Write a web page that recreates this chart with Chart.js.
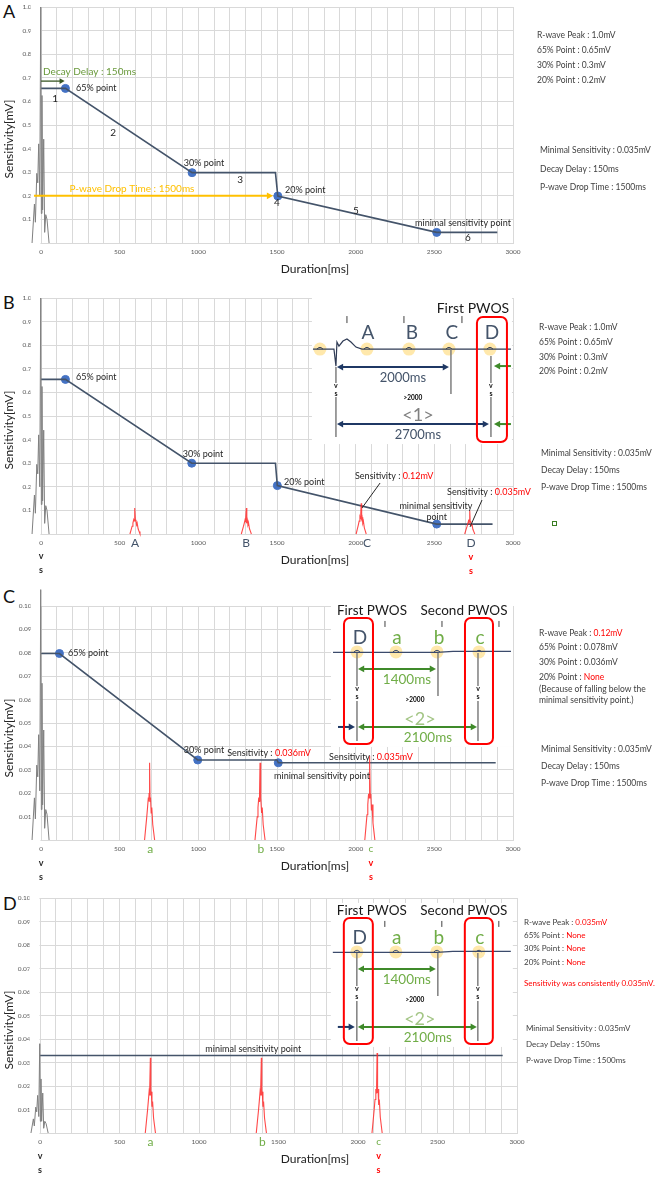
<!DOCTYPE html>
<html lang="en">
<head>
    <meta charset="UTF-8">
    <title>Sensitivity decay - PWOS</title>
    <style>
        * { margin: 0; padding: 0; box-sizing: border-box; }

        body {
            width: 656px;
            height: 1177px;
            background: #fff;
            font-family: Lato, "Noto Sans", sans-serif;
            position: relative;
            overflow: hidden;
        }

        .chart-box {
            position: absolute;
            left: 0;
            width: 656px;
        }

        /* panel letters A-D */
        .letter {
            position: absolute;
            left: 3px;
            font-size: 18px;
            color: #111;
            line-height: 1;
        }

        /* settings listed right of each chart */
        .info {
            position: absolute;
            font-size: 8.5px;
            line-height: 10px;
            color: #404040;
            white-space: nowrap;
        }
        .info.small { font-size: 8px; }
        .red { color: #ff0000; }
    </style>
    <script src="https://cdn.jsdelivr.net/npm/chart.js"></script>
</head>
<body>

    <div class="letter" style="top:2px">A</div>
    <div class="letter" style="top:293px">B</div>
    <div class="letter" style="top:587px">C</div>
    <div class="letter" style="top:894px">D</div>

    <div class="chart-box" style="top:0;height:285px"><canvas id="chartA"></canvas></div>
    <div class="chart-box" style="top:280px;height:295px"><canvas id="chartB"></canvas></div>
    <div class="chart-box" style="top:588px;height:297px"><canvas id="chartC"></canvas></div>
    <div class="chart-box" style="top:880px;height:297px"><canvas id="chartD"></canvas></div>

    <!-- Panel A settings -->
    <div class="info" style="left:537px;top:30px">R-wave Peak : 1.0mV</div>
    <div class="info" style="left:537px;top:45px">65% Point : 0.65mV</div>
    <div class="info" style="left:537px;top:60px">30% Point : 0.3mV</div>
    <div class="info" style="left:537px;top:75px">20% Point : 0.2mV</div>
    <div class="info" style="left:540px;top:145px">Minimal Sensitivity : 0.035mV</div>
    <div class="info" style="left:540px;top:164px">Decay Delay : 150ms</div>
    <div class="info" style="left:540px;top:182px">P-wave Drop Time : 1500ms</div>

    <!-- Panel B settings -->
    <div class="info" style="left:539px;top:322px">R-wave Peak : 1.0mV</div>
    <div class="info" style="left:539px;top:337px">65% Point : 0.65mV</div>
    <div class="info" style="left:539px;top:352px">30% Point : 0.3mV</div>
    <div class="info" style="left:539px;top:366px">20% Point : 0.2mV</div>
    <div class="info" style="left:541px;top:448px">Minimal Sensitivity : 0.035mV</div>
    <div class="info" style="left:541px;top:465px">Decay Delay : 150ms</div>
    <div class="info" style="left:541px;top:482px">P-wave Drop Time : 1500ms</div>
    <div style="position:absolute;left:552px;top:521px;width:5px;height:5px;border:1px solid #3a7d22"></div>

    <!-- Panel C settings -->
    <div class="info" style="left:539px;top:628px">R-wave Peak : <span class="red">0.12mV</span></div>
    <div class="info" style="left:539px;top:642px">65% Point : 0.078mV</div>
    <div class="info" style="left:539px;top:657px">30% Point : 0.036mV</div>
    <div class="info" style="left:539px;top:672px">20% Point : <span class="red">None</span></div>
    <div class="info" style="left:539px;top:684px">(Because of falling below the</div>
    <div class="info" style="left:539px;top:695px">minimal sensitivity point.)</div>
    <div class="info" style="left:541px;top:744px">Minimal Sensitivity : 0.035mV</div>
    <div class="info" style="left:541px;top:761px">Decay Delay : 150ms</div>
    <div class="info" style="left:541px;top:778px">P-wave Drop Time : 1500ms</div>

    <!-- Panel D settings -->
    <div class="info small" style="left:524px;top:917px">R-wave Peak : <span class="red">0.035mV</span></div>
    <div class="info small" style="left:524px;top:930px">65% Point : <span class="red">None</span></div>
    <div class="info small" style="left:524px;top:943px">30% Point : <span class="red">None</span></div>
    <div class="info small" style="left:524px;top:957px">20% Point : <span class="red">None</span></div>
    <div class="info small red" style="left:524px;top:978px">Sensitivity was consistently 0.035mV.</div>
    <div class="info small" style="left:526px;top:1023px">Minimal Sensitivity : 0.035mV</div>
    <div class="info small" style="left:526px;top:1039px">Decay Delay : 150ms</div>
    <div class="info small" style="left:526px;top:1055px">P-wave Drop Time : 1500ms</div>

    <script>
        // ---------- values ----------
        const durationLabels = [0, 500, 1000, 1500, 2000, 2500, 3000];
        const durationMin = -60;   // room for the R wave left of 0 ms
        const durationMax = 3000;

        // sensed R wave around 0 ms (gray trace)
        const rWaveX = [-57, -42, -36, -27, -21, -15, -8, -2, 2, 6, 10, 17, 23, 30, 38, 51];
        const rWaveA = [0, 0.165, 0.088, 0.295, 0.255, 0.42, 0.2, 1.0, 0.125, 0.625, 0.14, 0.44, 0.045, 0.12, 0.1, 0];
        const rWaveC = [0, 0.018, 0.009, 0.032, 0.027, 0.045, 0.021, 0.107, 0.013, 0.067, 0.015, 0.047, 0.005, 0.013, 0.011, 0];
        const rWaveD = [0, 0.006, 0.003, 0.011, 0.009, 0.016, 0.007, 0.038, 0.005, 0.023, 0.005, 0.017, 0.002, 0.005, 0.004, 0];

        // P wave (red trace): ms offset and fraction of its peak
        const pWaveDx = [-32, -25, -18, -13, -8, -5, -3, 0, 3, 6, 10, 14, 20, 26, 32];
        const pWaveShape = [0, 0.15, 0.3, 0.42, 0.55, 0.5, 0.6, 1, 0.5, 0.55, 0.35, 0.42, 0.2, 0.1, 0];
        const pWaveAtB = [597, 1305, 2035, 2725];
        const pWavePeakB = [0.11, 0.11, 0.13, 0.10];
        const pWaveAtC = [690, 1392, 2090];
        const pWavePeakC = [0.033, 0.033, 0.036];
        const pWaveAtD = [694, 1392, 2120];
        const pWavePeakD = [0.032, 0.032, 0.034];

        // sensitivity decay line and its marked points
        const decayXA = [0, 155, 960, 1490, 1505, 2515, 2900];
        const decayYA = [0.655, 0.655, 0.298, 0.298, 0.199, 0.045, 0.045];
        const pointXA = [155, 960, 1505, 2515];
        const pointYA = [0.655, 0.298, 0.199, 0.045];

        const decayXB = [0, 155, 958, 1490, 1502, 2515, 2870];
        const decayYB = [0.655, 0.655, 0.3, 0.3, 0.205, 0.042, 0.042];
        const pointXB = [155, 958, 1502, 2515];
        const pointYB = [0.655, 0.3, 0.205, 0.042];

        const decayXC = [0, 117, 996, 1500, 1508, 2890];
        const decayYC = [0.0797, 0.0797, 0.0342, 0.0342, 0.033, 0.033];
        const pointXC = [117, 996, 1508];
        const pointYC = [0.0797, 0.0342, 0.033];

        const decayXD = [0, 2910];
        const decayYD = [0.033, 0.033];

        // panel A helper arrows
        const decayDelayX = [0, 150];
        const decayDelayY = 0.686;
        const dropTimeX = [-45, 1475];
        const dropTimeY = 0.2;

        // where the ECG insets sit (ms, mV of their top-left corner)
        const insetAnchorB = [1722, 1.004];
        const insetAnchorC = [1843, 0.1013];
        const insetAnchorD = [1829, 0.0979];

        // ---------- colours / fonts ----------
        const FONT = 'Lato, "Noto Sans", sans-serif';
        const SLATE = '#44546a';
        const DOT = '#4472c4';
        const TXT = '#262626';
        const RED = '#ff0000';
        const GREEN = '#70ad47';
        const DKGREEN = '#3f8a2a';
        const NAVY = '#1f3864';
        const YELLOW = '#ffc000';
        const GRID = '#d9d9d9';

        function xy(xs, ys) {
            return xs.map((x, i) => ({ x: x, y: ys[i] }));
        }

        function pWaves(at, peaks) {
            return at.map((c, k) => ({
                data: pWaveDx.map((d, i) => ({ x: c + d, y: peaks[k] * pWaveShape[i] })),
                showLine: true, borderColor: 'rgba(255,40,40,0.85)', borderWidth: 1.1,
                pointRadius: 0, clip: false
            }));
        }

        // ---------- drawing helpers ----------
        function text(ctx, s, x, y, o) {
            o = o || {};
            ctx.save();
            ctx.font = (o.weight || 'normal') + ' ' + (o.size || 9) + 'px ' + FONT;
            ctx.fillStyle = o.color || TXT;
            ctx.textAlign = o.align || 'center';
            ctx.textBaseline = 'middle';
            ctx.fillText(s, x, y);
            ctx.restore();
        }

        function richText(ctx, parts, x, y, size) {
            ctx.save();
            ctx.font = size + 'px ' + FONT;
            ctx.textBaseline = 'middle';
            ctx.textAlign = 'left';
            const w = parts.reduce((s, p) => s + ctx.measureText(p[0]).width, 0);
            let cx = x - w / 2;
            parts.forEach(p => {
                ctx.fillStyle = p[1];
                ctx.fillText(p[0], cx, y);
                cx += ctx.measureText(p[0]).width;
            });
            ctx.restore();
        }

        function seg(ctx, pts, color, width) {
            ctx.save();
            ctx.strokeStyle = color;
            ctx.lineWidth = width;
            ctx.beginPath();
            pts.forEach((p, i) => i ? ctx.lineTo(p[0], p[1]) : ctx.moveTo(p[0], p[1]));
            ctx.stroke();
            ctx.restore();
        }

        // horizontal arrow, heads: 'end' | 'start' | 'both'
        function arrow(ctx, x1, x2, y, color, width, heads) {
            const d = Math.sign(x2 - x1);
            const hs = 3 + width * 1.6;
            let a = x1, b = x2;
            if (heads !== 'end') a += d * hs * 0.8;
            if (heads !== 'start') b -= d * hs * 0.8;
            seg(ctx, [[a, y], [b, y]], color, width);
            ctx.save();
            ctx.fillStyle = color;
            const head = (tip, dir) => {
                ctx.beginPath();
                ctx.moveTo(tip, y);
                ctx.lineTo(tip - dir * hs, y - hs * 0.55);
                ctx.lineTo(tip - dir * hs, y + hs * 0.55);
                ctx.closePath();
                ctx.fill();
            };
            if (heads !== 'start') head(x2, d);
            if (heads !== 'end') head(x1, -d);
            ctx.restore();
        }

        function roundBox(ctx, x, y, w, h, r, color, width) {
            ctx.save();
            ctx.strokeStyle = color;
            ctx.lineWidth = width;
            ctx.beginPath();
            ctx.moveTo(x + r, y);
            ctx.arcTo(x + w, y, x + w, y + h, r);
            ctx.arcTo(x + w, y + h, x, y + h, r);
            ctx.arcTo(x, y + h, x, y, r);
            ctx.arcTo(x, y, x + w, y, r);
            ctx.closePath();
            ctx.stroke();
            ctx.restore();
        }

        function halo(ctx, x, y) {
            ctx.save();
            ctx.fillStyle = 'rgba(255, 214, 102, 0.55)';
            ctx.beginPath();
            ctx.arc(x, y, 6.5, 0, Math.PI * 2);
            ctx.fill();
            ctx.restore();
        }

        function vsLabel(ctx, x, y) {
            text(ctx, 'v', x, y, { size: 7, weight: 'bold', color: '#111' });
            text(ctx, 's', x, y + 8, { size: 7, weight: 'bold', color: '#111' });
        }

        // ECG strip of panel B
        function insetB(ctx, ox, oy) {
            const P = (x, y) => [ox + x, oy + y];
            ctx.save();
            ctx.fillStyle = '#fff';
            ctx.fillRect(ox, oy, 200, 147);
            ctx.restore();

            text(ctx, 'First PWOS', ox + 161, oy + 11, { size: 14, color: '#1a1a1a' });
            [35, 92, 150].forEach(x => seg(ctx, [P(x, 19), P(x, 26)], '#404040', 1));
            [['A', 56], ['B', 100], ['C', 140], ['D', 180]].forEach(l =>
                text(ctx, l[0], ox + l[1], oy + 36, { size: 19, color: SLATE }));

            [8, 55, 97, 137, 178].forEach(x => halo(ctx, ox + x, oy + 52));
            seg(ctx, [P(1, 52), P(22, 52), P(24, 69), P(25, 45), P(27, 49), P(31, 44), P(35, 42),
                P(39, 45), P(44, 50), P(50, 52), P(199, 52)], '#2f3b55', 1.2);
            [8, 55, 97, 137, 178].forEach(x =>
                seg(ctx, [P(x - 3, 52), P(x - 1, 50.5), P(x + 1, 50.5), P(x + 3, 52)], '#2f3b55', 1));

            // sensed beats and the C marker
            seg(ctx, [P(24, 70), P(24, 86)], '#7f7f7f', 1.5);
            seg(ctx, [P(24, 100), P(24, 140)], '#7f7f7f', 1.5);
            seg(ctx, [P(139, 52), P(139, 97)], '#7f7f7f', 1.5);
            seg(ctx, [P(179, 59), P(179, 86)], '#7f7f7f', 1.5);
            seg(ctx, [P(179, 100), P(179, 140)], '#7f7f7f', 1.5);
            vsLabel(ctx, ox + 24, oy + 89);
            vsLabel(ctx, ox + 179, oy + 89);

            arrow(ctx, ox + 25, ox + 137, oy + 70, NAVY, 2, 'both');
            text(ctx, '2000ms', ox + 91, oy + 81, { size: 13, color: SLATE });
            text(ctx, '>2000', ox + 101, oy + 101, { size: 6.5, weight: 'bold', color: '#000' });
            text(ctx, '<1>', ox + 106, oy + 118, { size: 18, color: '#808080' });
            arrow(ctx, ox + 25, ox + 177, oy + 127, NAVY, 2, 'both');
            text(ctx, '2700ms', ox + 106, oy + 138, { size: 13, color: SLATE });

            arrow(ctx, ox + 199, ox + 182, oy + 69, DKGREEN, 2, 'end');
            arrow(ctx, ox + 199, ox + 182, oy + 127, DKGREEN, 2, 'end');
            roundBox(ctx, ox + 165, oy + 20, 30, 125, 6, RED, 2);
        }

        // ECG strip of panels C and D
        function insetCD(ctx, ox, oy) {
            const P = (x, y) => [ox + x, oy + y];
            ctx.save();
            ctx.fillStyle = '#fff';
            ctx.fillRect(ox, oy, 182, 144);
            ctx.restore();

            text(ctx, 'First PWOS', ox + 41, oy + 8, { size: 13.5, color: '#1a1a1a' });
            text(ctx, 'Second PWOS', ox + 133, oy + 8, { size: 13.5, color: '#1a1a1a' });
            [54, 111, 168].forEach(x => seg(ctx, [P(x, 18), P(x, 24)], '#404040', 1));
            text(ctx, 'D', ox + 29, oy + 35, { size: 19, color: SLATE });
            [['a', 66], ['b', 108], ['c', 149]].forEach(l =>
                text(ctx, l[0], ox + l[1], oy + 35, { size: 19, color: GREEN }));

            [26, 65, 106, 148].forEach(x => halo(ctx, ox + x, oy + 49));
            seg(ctx, [P(2, 49.5), P(106, 49.5), P(122, 48.4), P(180, 48.4)], '#3b4a6b', 1.2);
            [26, 65, 106, 148].forEach(x =>
                seg(ctx, [P(x - 3, 49), P(x - 1, 47.5), P(x + 1, 47.5), P(x + 3, 49)], '#3b4a6b', 1));

            seg(ctx, [P(26, 50), P(26, 83)], '#7f7f7f', 1.5);
            seg(ctx, [P(26, 98), P(26, 138)], '#7f7f7f', 1.5);
            seg(ctx, [P(107, 50), P(107, 93)], '#7f7f7f', 1.5);
            seg(ctx, [P(147, 50), P(147, 83)], '#7f7f7f', 1.5);
            seg(ctx, [P(147, 98), P(147, 138)], '#7f7f7f', 1.5);
            vsLabel(ctx, ox + 26, oy + 86);
            vsLabel(ctx, ox + 147, oy + 86);

            arrow(ctx, ox + 27, ox + 105, oy + 66, DKGREEN, 2, 'both');
            text(ctx, '1400ms', ox + 76, oy + 77, { size: 13.5, color: GREEN });
            text(ctx, '>2000', ox + 84, oy + 97, { size: 6.5, weight: 'bold', color: '#000' });
            text(ctx, '<2>', ox + 89, oy + 116, { size: 18, color: '#a3c585' });
            arrow(ctx, ox + 27, ox + 146, oy + 124, DKGREEN, 2, 'both');
            text(ctx, '2100ms', ox + 97, oy + 135, { size: 13.5, color: GREEN });
            arrow(ctx, ox + 7, ox + 24, oy + 124, NAVY, 2, 'end');

            roundBox(ctx, ox + 13, oy + 15, 29, 126, 6, RED, 2);
            roundBox(ctx, ox + 134, oy + 15, 28, 126, 6, RED, 2);
        }

        // the grid only starts at 0 ms: blank the strip left of it
        function blankLeftStrip(c) {
            const a = c.chartArea, x0 = c.scales.x.getPixelForValue(0);
            c.ctx.save();
            c.ctx.fillStyle = '#fff';
            c.ctx.fillRect(a.left - 1, a.top - 2, x0 - a.left + 0.4, a.bottom - a.top + 4);
            c.ctx.restore();
        }

        function axisTitles(c) {
            const ctx = c.ctx, a = c.chartArea;
            ctx.save();
            ctx.translate(9, a.top + 132);
            ctx.rotate(-Math.PI / 2);
            text(ctx, 'Sensitivity[mV]', 0, 0, { size: 12, color: '#222' });
            ctx.restore();
            text(ctx, 'Duration[ms]', 315, a.bottom + 26, { size: 12, color: '#222' });
        }

        // ---------- chart factory ----------
        function makeChart(id, p) {
            return new Chart(document.getElementById(id), {
                type: 'scatter',
                data: { datasets: p.datasets },
                options: {
                    responsive: true,
                    maintainAspectRatio: false,
                    animation: false,
                    layout: { padding: { left: 0, top: p.top, right: p.right, bottom: 0 } },
                    plugins: { legend: { display: false }, tooltip: { enabled: false } },
                    scales: {
                        x: {
                            type: 'linear', min: durationMin, max: durationMax,
                            afterFit: s => { s.height = p.xHeight; },
                            grid: { color: GRID, lineWidth: 1, drawTicks: false },
                            border: { color: GRID },
                            ticks: {
                                stepSize: 100, includeBounds: false, autoSkip: false, maxRotation: 0, padding: 5,
                                color: '#595959', font: { size: 6.5, family: FONT },
                                callback: v => durationLabels.includes(v) ? String(v) : ''
                            }
                        },
                        y: {
                            min: 0, max: p.yMax,
                            afterFit: s => { s.width = p.left; },
                            grid: { color: GRID, lineWidth: 1, drawTicks: false },
                            border: { display: false },
                            ticks: {
                                stepSize: p.yStep, padding: 0,
                                color: '#595959', font: { size: 6.5, family: FONT },
                                callback: v => v < p.yStep / 2 ? '' : v.toFixed(p.digits)
                            }
                        }
                    }
                },
                plugins: [{
                    id: 'decor',
                    beforeDatasetsDraw: c => { blankLeftStrip(c); if (p.under) p.under(c); },
                    afterDatasetsDraw: c => { axisTitles(c); p.over(c); }
                }]
            });
        }

        function grayWave(ys) {
            return { data: xy(rWaveX, ys), showLine: true, borderColor: '#808080', borderWidth: 1, pointRadius: 0, clip: false };
        }
        function decayLine(xs, ys) {
            return { data: xy(xs, ys), showLine: true, borderColor: SLATE, borderWidth: 1.6, pointRadius: 0 };
        }
        function markers(xs, ys) {
            return { data: xy(xs, ys), showLine: false, pointRadius: 4, backgroundColor: DOT, borderColor: DOT };
        }

        // ---------- Panel A ----------
        makeChart('chartA', {
            top: 7, right: 143, left: 31.6, xHeight: 42, yMax: 1, yStep: 0.1, digits: 1,
            datasets: [grayWave(rWaveA), decayLine(decayXA, decayYA), markers(pointXA, pointYA)],
            over: c => {
                const ctx = c.ctx, X = v => c.scales.x.getPixelForValue(v), Y = v => c.scales.y.getPixelForValue(v);
                text(ctx, 'Decay Delay : 150ms', X(13), Y(0.727), { size: 10, color: '#6a9a3c', align: 'left' });
                arrow(ctx, X(decayDelayX[0]), X(decayDelayX[1]), Y(decayDelayY), '#375623', 1.3, 'end');
                text(ctx, '65% point', X(222), Y(0.657), { align: 'left' });
                text(ctx, '1', X(89), Y(0.61), { size: 10 });
                text(ctx, '2', X(458), Y(0.466), { size: 10 });
                text(ctx, '30% point', X(1036), Y(0.339));
                text(ctx, '3', X(1265), Y(0.267), { size: 10 });
                text(ctx, '20% point', X(1551), Y(0.225), { align: 'left' });
                text(ctx, '4', X(1500), Y(0.17), { size: 10 });
                text(ctx, '5', X(2002), Y(0.136), { size: 10 });
                text(ctx, 'minimal sensitivity point', X(2682), Y(0.085));
                text(ctx, '6', X(2714), Y(0.021), { size: 10 });
                arrow(ctx, X(dropTimeX[0]), X(dropTimeX[1]), Y(dropTimeY), YELLOW, 2, 'end');
                text(ctx, 'P-wave Drop Time : 1500ms', X(578), Y(0.229), { size: 10, color: YELLOW });
            }
        });

        // ---------- Panel B ----------
        makeChart('chartB', {
            top: 18, right: 143, left: 31.6, xHeight: 41, yMax: 1, yStep: 0.1, digits: 1,
            datasets: [grayWave(rWaveA)].concat(pWaves(pWaveAtB, pWavePeakB),
                [decayLine(decayXB, decayYB), markers(pointXB, pointYB)]),
            under: c => {
                insetB(c.ctx, c.scales.x.getPixelForValue(insetAnchorB[0]), c.scales.y.getPixelForValue(insetAnchorB[1]));
            },
            over: c => {
                const ctx = c.ctx, X = v => c.scales.x.getPixelForValue(v), Y = v => c.scales.y.getPixelForValue(v);
                const b = c.chartArea.bottom;
                text(ctx, '65% point', X(222), Y(0.665), { align: 'left' });
                text(ctx, '30% point', X(1030), Y(0.339));
                text(ctx, '20% point', X(1545), Y(0.22), { align: 'left' });
                richText(ctx, [['Sensitivity : ', TXT], ['0.12mV', RED]], X(2245), Y(0.246), 9);
                seg(ctx, [[X(2155), Y(0.216)], [X(2040), Y(0.11)]], '#262626', 1);
                richText(ctx, [['Sensitivity : ', TXT], ['0.035mV', RED]], X(2847), Y(0.178), 9);
                seg(ctx, [[X(2803), Y(0.144)], [X(2727), Y(0.03)]], '#262626', 1);
                text(ctx, 'minimal sensitivity', X(2510), Y(0.119));
                text(ctx, 'point', X(2515), Y(0.072));
                [['A', 597], ['B', 1303], ['C', 2072], ['D', 2733]].forEach(l =>
                    text(ctx, l[0], X(l[1]), b + 9, { size: 12, color: SLATE }));
                text(ctx, 'v', X(0), b + 22, { size: 9, weight: 'bold' });
                text(ctx, 's', X(0), b + 36, { size: 9, weight: 'bold' });
                text(ctx, 'v', X(2733), b + 23, { size: 9, weight: 'bold', color: RED });
                text(ctx, 's', X(2733), b + 37, { size: 9, weight: 'bold', color: RED });
            }
        });

        function belowAxisCD(c, cAt) {
            const ctx = c.ctx, X = v => c.scales.x.getPixelForValue(v);
            const b = c.chartArea.bottom;
            [['a', 694], ['b', 1398]].forEach(l => text(ctx, l[0], X(l[1]), b + 9, { size: 12, color: GREEN }));
            text(ctx, 'c', X(cAt), b + 9, { size: 10, color: GREEN });
            text(ctx, 'v', X(0), b + 23, { size: 9, weight: 'bold' });
            text(ctx, 's', X(0), b + 37, { size: 9, weight: 'bold' });
            text(ctx, 'v', X(cAt), b + 23, { size: 9, weight: 'bold', color: RED });
            text(ctx, 's', X(cAt), b + 37, { size: 9, weight: 'bold', color: RED });
        }

        // ---------- Panel C ----------
        makeChart('chartC', {
            top: 18, right: 143, left: 31.6, xHeight: 45, yMax: 0.1, yStep: 0.01, digits: 2,
            datasets: [grayWave(rWaveC)].concat(pWaves(pWaveAtC, pWavePeakC),
                [decayLine(decayXC, decayYC), markers(pointXC, pointYC)]),
            under: c => {
                insetCD(c.ctx, c.scales.x.getPixelForValue(insetAnchorC[0]), c.scales.y.getPixelForValue(insetAnchorC[1]));
            },
            over: c => {
                const ctx = c.ctx, X = v => c.scales.x.getPixelForValue(v), Y = v => c.scales.y.getPixelForValue(v);
                text(ctx, '65% point', X(172), Y(0.0799), { align: 'left' });
                text(ctx, '30% point', X(1036), Y(0.0385));
                richText(ctx, [['Sensitivity : ', TXT], ['0.036mV', RED]], X(1449), Y(0.0373), 9);
                text(ctx, 'minimal sensitivity point', X(1786), Y(0.0274));
                richText(ctx, [['Sensitivity : ', TXT], ['0.035mV', RED]], X(2097), Y(0.0355), 9);
                belowAxisCD(c, 2097);
            }
        });

        // ---------- Panel D ----------
        makeChart('chartD', {
            top: 18, right: 139, left: 30.5, xHeight: 44, yMax: 0.1, yStep: 0.01, digits: 2,
            datasets: [grayWave(rWaveD)].concat(pWaves(pWaveAtD, pWavePeakD), [decayLine(decayXD, decayYD)]),
            under: c => {
                insetCD(c.ctx, c.scales.x.getPixelForValue(insetAnchorD[0]), c.scales.y.getPixelForValue(insetAnchorD[1]));
            },
            over: c => {
                const ctx = c.ctx, X = v => c.scales.x.getPixelForValue(v), Y = v => c.scales.y.getPixelForValue(v);
                text(ctx, 'minimal sensitivity point', X(1341), Y(0.0357));
                belowAxisCD(c, 2129);
            }
        });
    </script>

</body>
</html>
